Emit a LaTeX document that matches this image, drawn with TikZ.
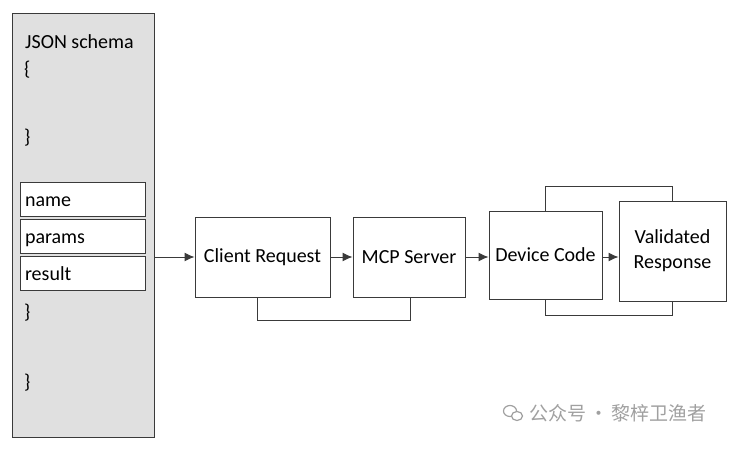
\documentclass[tikz,border=0pt]{standalone}
\usepackage{fontspec}
\setmainfont{Carlito}
\newfontfamily\cjkfont{Noto Sans CJK SC}
\usetikzlibrary{arrows.meta,positioning,shapes.geometric}
\definecolor{panelgray}{HTML}{E0E0E0}
\definecolor{linegray}{HTML}{3A3A3A}
\definecolor{markgray}{HTML}{A0A0A0}
\newcommand{\bodyfont}{\fontsize{20}{25}\selectfont}
\tikzset{
  stage/.style={rectangle,draw=linegray,fill=white,line width=1pt,
    minimum height=80pt,align=center,font=\bodyfont,inner sep=0pt},
  field/.style={rectangle,draw=linegray,fill=white,line width=0.9pt,
    minimum width=125pt,minimum height=34pt,text width=115pt,
    text height=15.5pt,text depth=1pt,
    align=left,font=\bodyfont,inner sep=0pt},
  codetext/.style={anchor=west,font=\bodyfont,inner sep=0pt},
  myarrow/.style={-{Latex[length=10pt,width=9pt]},line width=1pt,draw=linegray},
  loopline/.style={line width=1pt,draw=linegray},
}

\begin{document}
\begin{tikzpicture}[x=1pt,y=-1pt]
  \useasboundingbox[fill=white] (0,0) rectangle (736,448);
  % schema panel
  \node[rectangle,draw=linegray,fill=panelgray,line width=1pt,
    minimum width=142pt,minimum height=424pt] (schema) at (83,225) {};
  \node[codetext] (title) at (25,42) {JSON schema};
  \node[codetext] (open) at (24,70) {\{};
  \node[codetext] (close) at (24,138) {\}};
  \node[field] (name) at (82.5,199) {name};
  \node[field] (params) at (82.5,236) {params};
  \node[field] (result) at (82.5,273.5) {result};
  \node[codetext] (closeb) at (24,313) {\}};
  \node[codetext] (closec) at (24,383) {\}};
  % pipeline
  \node[stage,minimum width=135pt] (client) at (262.5,257) {Client Request};
  \node[stage,minimum width=112pt] (mcp) at (409,257) {MCP Server};
  \node[stage,minimum width=113pt,minimum height=88pt] (device) at (545.5,255) {Device Code};
  \node[stage,minimum width=107pt,minimum height=100pt] (valid) at (672.5,251) {Validated\\Response};
  \draw[myarrow] (schema.east |- client) -- (client);
  \draw[myarrow] (client) -- (mcp);
  \draw[myarrow] (mcp) -- (device.west |- mcp);
  \draw[myarrow] (device.east |- mcp) -- (valid.west |- mcp);
  % feedback loops
  \draw[loopline] ([xshift=-5.5pt]client.south) -- ++(0,23) -| ([xshift=1pt]mcp.south);
  \draw[loopline] (device.north) -- ++(0,-24) -| (valid.north);
  \draw[loopline] (device.south) -- ++(0,16) -| (valid.south);
  % watermark
  \node[ellipse,draw=markgray,line width=1.2pt,minimum width=13pt,minimum height=11pt,inner sep=0pt] (icon) at (510,411) {};
  \node[ellipse,draw=markgray,fill=white,line width=1.2pt,minimum width=11pt,minimum height=9pt,inner sep=0pt] (iconb) at (517,416) {};
  \node[anchor=west,font=\cjkfont\fontsize{19}{22}\selectfont,text=markgray,inner sep=0pt]
    (mark) at (529,413) {公众号\,·\,黎梓卫渔者};
\end{tikzpicture}
\end{document}
